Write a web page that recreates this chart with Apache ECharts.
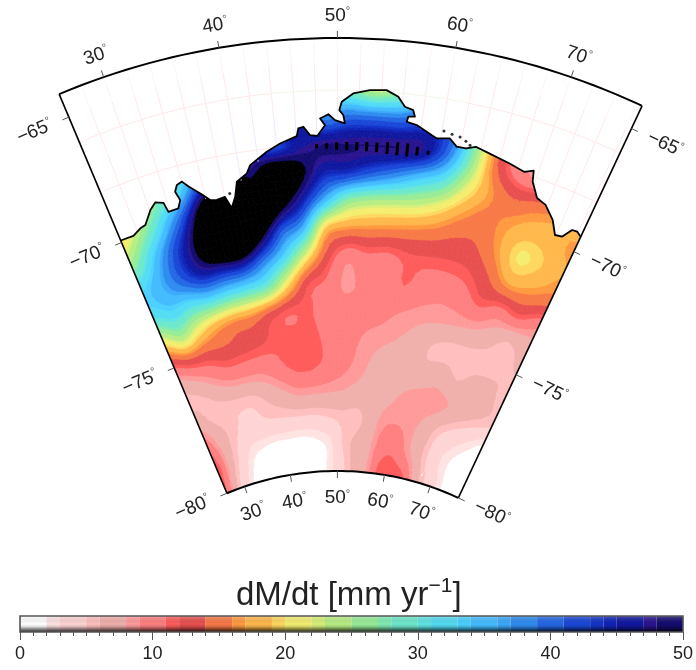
<!DOCTYPE html>
<html><head><meta charset="utf-8"><style>html,body{margin:0;padding:0;background:#fff}#c{width:696px;height:670px}</style>
<script src="https://cdn.jsdelivr.net/npm/echarts@6/dist/echarts.min.js"></script></head><body><div id="c"></div><script>
// colour scale
const levels=[0,2,3,5,6,8,9,11,12,14,16,17,19,20,22,23,25,27,28,30,31,33,34,36,37,39,41,43,44,45,47,48,50];
const bandColors=['#ffffff','#ffe3e3','#ffd4d4','#ffbfbf','#f0b0ac','#ff9a9a','#ff8080','#ff5c5c','#e85050','#f87a48','#ff9a40','#ffb84c','#ffd860','#f4ee70','#d8f07a','#b8ee84','#98ec98','#80ecb4','#6ee8cc','#60e4e4','#54dcf4','#4cd0ff','#44bcff','#3ca8fa','#2f8cf0','#2468e4','#1a48d8','#1434c8','#1024b8','#1018a0','#2a1490','#140c70'];
const overColor='#000000';
const barTicks=[0,10,20,30,40,50];
// grid of dM/dt
const lonGrid=[26,28.5,31,33.5,36,38.5,41,43.5,46,48.5,51,53.5,56,58.5,61,63.5,66,68.5,71,73.5,76.43];
const latGrid=[-80,-79,-78,-77,-76,-75,-74,-73,-72,-71,-70,-69,-68,-67,-66,-65];
const r80=[11,6,3,1,0.5,0,0,0.5,1,2.5,4.5,6.5,8,11.5,11.8,11.5,7.5,5,3,1,0.5];
const r79=[12,7.5,4.5,2.3,1.5,1,1,1,1.5,2.5,5,6.5,7.5,10,10.5,8.5,6.5,4,2.5,1,0.5];
const r78=[9.5,7,5.5,4.5,4.5,4.6,4.6,4.6,4.6,5,5.5,5.5,7,8.6,8.8,8.3,7,5.2,4,3,1.5];
const r77=[6.5,5.5,5.5,5.5,5.5,6.5,7.5,8.5,8.5,8.3,8,7.5,7.5,7.4,8.2,8.7,8.7,8,7,6.2,5.5];
const r76=[6,7,8.5,9.5,9.5,9.5,10.5,11.5,11.5,10.5,9.5,8.5,7.5,6.8,6.5,6.5,7,6,6.5,6.5,5.5];
const r75=[11,13,13,13.5,13,12.5,11.5,11.5,11.5,10.5,9.5,9,8.5,8,7.3,6,5.5,5.5,5.5,5.5,6];
const r74=[20.5,25,21,18,16.5,16,13.5,11.5,11.3,10,9.5,9.5,9.5,9,8.5,8.3,8.2,8,7.2,6,7];
const r73=[31,33,32,33,32,31,29,21,13,10.8,8.7,9.5,9.8,11,10,9.5,10,11.5,10.5,11.5,9.5];
const r72=[33,36,41,46,47,47,40,33,23,14,10,10.8,10.5,11.5,11.5,11.5,12,14,17,16.5,15];
const r71=[26,33,41,50,65,68,55,42,36,20,17,16.5,16,15.5,14.8,13.8,14,16.5,20.2,19.2,17];
const r70=[20,26,34,44,60,70,68,55,46,36,27.5,25,24,23,20.5,17,15.3,16.5,18,18,16.5];
const r69=[18,21,27,33,45,55,50,58,52,45,44,41,38,34,30,22,16.5,14,15,16,17];
const r68=[18,20,25,30,36,45,47,42,46,48,48,48,48,47,39,26,14,9.5,9,10,10];
const r67=[18,20,25,30,38,45,47,47,46,38,40,40,40,42,40,26,14,10,9,9,9];
const r66=[16,18,22,28,34,40,42,42,34,32,28,24,27,32,34,24,12,9,8,8,8];
const r65=[14,16,20,24,30,35,38,38,30,28,22,15,20,28,30,20,10,8,8,8,8];
const field=[r80,r79,r78,r77,r76,r75,r74,r73,r72,r71,r70,r69,r68,r67,r66,r65];
// coastline
const coastLon=[26,27.45,28.45,29.07,30.1,30.84,31.63,31.84,32.96,33.38,33.11,33.47,34.06,34.58,35.59,36.44,37.12,38.03,38.51,39.1,39.55,40.7,41.16,42.98,44.37,46.05,46.25,46.74,47.34,48.05,48.81,48.36,49.15,49.77,50.72,50.55,50.18,50.4,51.44,52.95,54.45,55.56,56.25,57.05,57.28,56.66,56.57,57.54,58.57,59.62,60.87,61.65,62.58,63.47,64.88,67.01,68.65,69.52,69.76,70.72,71.78,73.03,73.86,74.64,75.32,75.86,76.43];
const coastLat=[-69.92,-69.94,-69.77,-69.72,-69.26,-69.05,-69.16,-69.53,-69.51,-69.24,-68.89,-68.67,-68.6,-68.84,-69.19,-69.51,-69.56,-69.51,-69.96,-69.58,-69.04,-68.8,-68.52,-68.11,-67.86,-67.64,-67.36,-67.31,-67.63,-67.67,-67.28,-67.03,-66.88,-67.1,-67.22,-66.91,-66.73,-66.42,-66.11,-65.97,-65.93,-66.14,-66.48,-66.57,-66.8,-66.83,-67.02,-67.1,-67.29,-67.48,-67.4,-67.65,-67.64,-67.51,-67.63,-67.79,-67.93,-67.78,-68.17,-68.69,-68.82,-69.24,-69.72,-69.67,-69.3,-69.28,-69.4];
const isleLon=[60.19,61,61.8,62.43,62.9,38.6,39.4];
const isleLat=[-67.17,-67.23,-67.28,-67.39,-67.5,-69.42,-69.42];
const spikeLon=[47.95,48.94,49.93,50.92,51.91,52.9,53.89,54.94,55.93,56.92,57.9,59];
const spikeHalfLat=[.08,.1,.14,.15,.16,.17,.18,.22,.24,.24,.16,.07];
// graticule
const meridians=[28,30,32,34,36,38,40,42,44,46,48,50,52,54,56,58,60,62,64,66,68,70,72,74,76];
const parallels=[-66,-68];
const lonTicks=[30,40,50,60,70];
const latTicks=[-65,-70,-75,-80];
const lonMin=26,lonMax=76.43,latS=-80,latN=-64.08;
const SUB=4;

const FONT='"Liberation Sans",Arial,sans-serif';
function clip(poly,level,above){
  const out=[];
  for(let i=0;i<poly.length;i++){
    const a=poly[i],b=poly[(i+1)%poly.length];
    const ia=above?a[2]>=level:a[2]<=level, ib=above?b[2]>=level:b[2]<=level;
    if(ia)out.push(a);
    if(ia!==ib){const t=(level-a[2])/(b[2]-a[2]);out.push([a[0]+t*(b[0]-a[0]),a[1]+t*(b[1]-a[1]),level]);}
  }
  return out;
}
const bands=bandColors.map((c,i)=>[levels[i],levels[i+1],c]);
bands.push([50,1e9,overColor]);
const cells=[];
for(let i=0;i<latGrid.length-1;i++)for(let j=0;j<lonGrid.length-1;j++)cells.push([latGrid[i],lonGrid[j],i,j]);
// cubic contour smoothing of the read values, used only for drawing the filled bands
function cr(a,b,c,d,t){return b+.5*t*(c-a+t*(2*a-5*b+4*c-d+t*(3*(b-c)+d-a)));}
function at(i,j){return field[Math.max(0,Math.min(field.length-1,i))][Math.max(0,Math.min(lonGrid.length-1,j))];}
function smooth(i,j,u,v){
  const col=[];
  for(let k=-1;k<=2;k++)col.push(cr(at(i+k,j-1),at(i+k,j),at(i+k,j+1),at(i+k,j+2),v));
  return cr(col[0],col[1],col[2],col[3],u);
}
function bandOf(v){for(let k=0;k<bands.length;k++)if(v<bands[k][1])return k;return bands.length-1;}
function renderCell(params,api){
  const c=cells[params.dataIndex],i=c[2],j=c[3];
  const la=latGrid[i],dla=latGrid[i+1]-la,lo=lonGrid[j],dlo=lonGrid[j+1]-lo;
  const P=[];
  for(let a=0;a<=SUB;a++){const row=[];for(let b=0;b<=SUB;b++)row.push([la+dla*a/SUB,lo+dlo*b/SUB,smooth(i,j,a/SUB,b/SUB)]);P.push(row);}
  const children=[];
  const emit=(p,col)=>children.push({type:'polygon',shape:{points:p.map(q=>api.coord([q[0],q[1]]))},style:{fill:col,stroke:col,lineWidth:.8}});
  for(let a=0;a<SUB;a++)for(let b=0;b<SUB;b++){
    const A=P[a][b],B=P[a][b+1],C=P[a+1][b+1],D=P[a+1][b];
    const ks=[A,B,C,D].map(p=>bandOf(p[2]));
    if(Math.min(...ks)===Math.max(...ks)){emit([A,B,C,D],bands[ks[0]][2]);continue;}
    [[A,B,C],[A,C,D]].forEach(tri=>{
      const vs=tri.map(p=>p[2]),mn=Math.min(...vs),mx=Math.max(...vs);
      bands.forEach(bd=>{
        if(bd[1]<mn||bd[0]>mx)return;
        let p=clip(tri,bd[0],true); if(p.length<3)return;
        p=clip(p,bd[1],false); if(p.length<3)return;
        emit(p,bd[2]);
      });
    });
  }
  return {type:'group',children};
}
function inMask(lat,lon,poly){
  let ins=false;
  for(let i=0,k=poly.length-1;i<poly.length;k=i++){
    const a=poly[i],b=poly[k];
    if((a[0]>lat)!==(b[0]>lat)&&lon<(b[1]-a[1])*(lat-a[0])/(b[0]-a[0])+a[1])ins=!ins;
  }
  return ins;
}
const coast=coastLon.map((l,i)=>[coastLat[i],l]);
const topLat=-64.8;
const arcN=[];for(let l=lonMax;l>=lonMin;l-=1)arcN.push([topLat,l]);arcN.push([topLat,lonMin]);
const maskPoly=coast.concat(arcN);
const ocean=coast.concat([[latN,lonMax],[latN,lonMin]]);

function renderMask(params,api){
  return {type:'polygon',shape:{points:maskPoly.map(p=>api.coord(p))},style:{fill:'#fff'}};
}
function renderGrat(params,api){
  const ch=[];
  const seg=(a,b,col)=>ch.push({type:'line',shape:{x1:a[0],y1:a[1],x2:b[0],y2:b[1]},style:{stroke:col,lineWidth:1}});
  meridians.forEach(m=>{
    for(let lat=latN-.15;lat>-70.2;lat-=.2){
      const mid=lat-.1;
      if(!inMask(mid,m,ocean))continue;
      const col=(m>=40&&m<=60&&lat<-66.7)?'#e8ebfd':(lat>-65?'#fff4f4':'#ffe8e8');
      seg(api.coord([lat,m]),api.coord([lat-.2,m]),col);
    }
  });
  parallels.forEach(p=>{
    for(let l=lonMin+.3;l<lonMax-.3;l+=.4){
      const mid=l+.2;
      if(!inMask(p,mid,ocean))continue;
      const col=(p===-66&&mid>44&&mid<62)?'#f2f8e8':'#ffe8e8';
      seg(api.coord([p,l]),api.coord([p,l+.4]),col);
    }
  });
  return {type:'group',children:ch};
}
function renderCoast(params,api){
  return {type:'polyline',shape:{points:coast.map(p=>api.coord(p))},style:{fill:null,stroke:'#000',lineWidth:1.8,lineJoin:'round'}};
}
function renderSpike(params,api){
  const i=params.dataIndex,h=spikeHalfLat[i],l=spikeLon[i];
  const a=api.coord([-68.05-h,l]),b=api.coord([-68.05+h,l]);
  return {type:'line',shape:{x1:a[0],y1:a[1],x2:b[0],y2:b[1]},style:{stroke:'#000',lineWidth:3}};
}
const richStyle={n:{fontFamily:FONT,fontSize:19,fill:'#222',lineHeight:20},d:{fontFamily:FONT,fontSize:11,fill:'#555',verticalAlign:'top',lineHeight:18}};
function lbl(x,y,txt,rot){
  return {type:'text',x:x,y:y,rotation:rot,style:{text:'{n|'+txt+'}{d|°}',align:'center',verticalAlign:'middle',rich:richStyle}};
}
function renderFrame(params,api){
  const ch=[];
  const arc=(lat)=>{const pts=[];for(let l=lonMin;l<lonMax;l+=1)pts.push(api.coord([lat,l]));pts.push(api.coord([lat,lonMax]));return pts;};
  ch.push({type:'polyline',shape:{points:arc(latN)},style:{fill:null,stroke:'#000',lineWidth:2}});
  ch.push({type:'polyline',shape:{points:arc(latS)},style:{fill:null,stroke:'#000',lineWidth:2}});
  ch.push({type:'polyline',shape:{points:[api.coord([latN,lonMin]),api.coord([latS,lonMin])]},style:{fill:null,stroke:'#000',lineWidth:1.6}});
  ch.push({type:'polyline',shape:{points:[api.coord([latN,lonMax]),api.coord([latS,lonMax])]},style:{fill:null,stroke:'#000',lineWidth:1.6}});
  const tick=(p,dx,dy,len)=>ch.push({type:'line',shape:{x1:p[0],y1:p[1],x2:p[0]+dx*len,y2:p[1]+dy*len},style:{stroke:'#555',lineWidth:1}});
  const c=[337.4,756];
  lonTicks.forEach(l=>{
    const top=api.coord([latN,l]),bot=api.coord([latS,l]);
    const h=Math.hypot(top[0]-c[0],top[1]-c[1]);
    const ux=(top[0]-c[0])/h,uy=(top[1]-c[1])/h;
    tick(top,ux,uy,7);tick(bot,-ux,-uy,7);
    const rot=Math.atan2(-ux,-uy);
    const t=api.coord([-63.25,l]),b=api.coord([-81,l]);
    ch.push(lbl(t[0],t[1],String(l),rot));
    ch.push(lbl(b[0],b[1],String(l),rot));
  });
  latTicks.forEach(lat=>{
    [[lonMin,-1],[lonMax,1]].forEach(s=>{
      const p=api.coord([lat,s[0]]);
      const dx=p[0]-c[0],dy=p[1]-c[1],h=Math.hypot(dx,dy);
      const ux=dx/h,uy=dy/h;
      const tx=s[1]*(-uy),ty=s[1]*(ux);
      tick(p,tx,ty,7);
      const rot=Math.atan2(-ux,-uy);
      ch.push(lbl(p[0]+tx*37,p[1]+ty*37,'\u2212'+Math.abs(lat),rot));
    });
  });
  return {type:'group',children:ch};
}
function renderBand(params,api){
  const i=params.dataIndex,a=api.coord([levels[i],1]),b=api.coord([levels[i+1],0]);
  return {type:'rect',shape:{x:a[0],y:a[1],width:b[0]-a[0],height:b[1]-a[1]},style:{fill:bandColors[i]}};
}
function renderBarFrame(params,api){
  const a=api.coord([0,1]),b=api.coord([50,0]);
  const shape={x:a[0],y:a[1],width:b[0]-a[0],height:b[1]-a[1]};
  return {type:'group',children:[
    {type:'rect',shape,style:{fill:{type:'linear',x:0,y:0,x2:0,y2:1,colorStops:[{offset:0,color:'rgba(255,255,255,.25)'},{offset:.5,color:'rgba(0,0,0,0)'},{offset:.65,color:'rgba(0,0,0,.12)'},{offset:1,color:'rgba(0,0,0,.85)'}]}}},
    {type:'rect',shape,style:{fill:null,stroke:'#555',lineWidth:1.6}}
  ]};
}
const chart=echarts.init(document.getElementById('c'),null,{renderer:'canvas'});
chart.setOption({
  animation:false,backgroundColor:'#fff',
  title:{left:231,top:571,text:'{a|dM/dt [mm yr}{b|\u22121}{a|]}',textStyle:{fontWeight:'normal',rich:{
    a:{fontFamily:FONT,fontSize:33,fontWeight:'normal',color:'#222',lineHeight:40},
    b:{fontFamily:FONT,fontSize:21,fontWeight:'normal',color:'#222',verticalAlign:'top',lineHeight:30}}}},
  polar:{center:[337.4,756],radius:[0,718]},
  angleAxis:{type:'value',min:50-360/0.95/2,max:50+360/0.95/2,startAngle:270,show:false},
  radiusAxis:{type:'value',min:-90.48,max:latN,show:false},
  grid:{left:20,right:13,top:616,height:16,containLabel:false},
  xAxis:{type:'value',min:0,max:50,interval:10,
    axisLine:{show:false},splitLine:{show:false},
    axisTick:{show:true,length:8,lineStyle:{color:'#555',width:1}},
    minorTick:{show:true,splitNumber:10,length:4,lineStyle:{color:'#555',width:1}},
    axisLabel:{fontFamily:FONT,fontSize:18,color:'#222',margin:13,customValues:barTicks}},
  yAxis:{type:'value',min:0,max:1,show:false},
  series:[
    {type:'custom',coordinateSystem:'polar',clip:false,z:1,silent:true,renderItem:renderCell,data:cells.map(c=>[c[0],c[1]])},
    {type:'custom',coordinateSystem:'polar',clip:false,z:2,silent:true,renderItem:renderSpike,data:spikeLon.map(l=>[-68.05,l])},
    {type:'custom',coordinateSystem:'polar',clip:false,z:3,silent:true,renderItem:renderMask,data:[[-66,50]]},
    {type:'custom',coordinateSystem:'polar',clip:false,z:4,silent:true,renderItem:renderGrat,data:[[-66,50]]},
    {type:'custom',coordinateSystem:'polar',clip:false,z:5,silent:true,renderItem:renderCoast,data:[[-66,50]]},
    {type:'scatter',coordinateSystem:'polar',z:6,silent:true,symbolSize:3,itemStyle:{color:'#000'},data:isleLon.map((l,i)=>[isleLat[i],l])},
    {type:'custom',coordinateSystem:'polar',clip:false,z:7,silent:true,renderItem:renderFrame,data:[[-66,50]]},
    {type:'custom',coordinateSystem:'cartesian2d',z:1,silent:true,renderItem:renderBand,data:bandColors.map((c,i)=>[levels[i],1])},
    {type:'custom',coordinateSystem:'cartesian2d',z:2,silent:true,renderItem:renderBarFrame,data:[[0,1]]}
  ]
});
</script></body></html>
